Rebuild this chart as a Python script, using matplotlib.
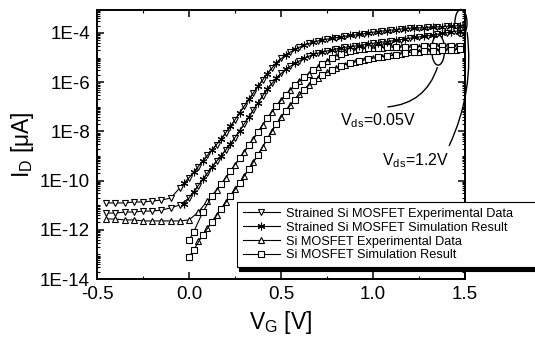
import numpy as np
import matplotlib
matplotlib.use('Agg')
import matplotlib.pyplot as plt
from matplotlib.patches import Ellipse
from matplotlib.ticker import FixedLocator, LogLocator, MultipleLocator, FuncFormatter, NullFormatter

plt.rcParams['font.family'] = ['Liberation Sans', 'DejaVu Sans']
plt.rcParams['mathtext.fontset'] = 'custom'
plt.rcParams['mathtext.rm'] = 'Liberation Sans'
plt.rcParams['mathtext.it'] = 'Liberation Sans:italic'
plt.rcParams['mathtext.bf'] = 'Liberation Sans:bold'
plt.rcParams['axes.unicode_minus'] = False

# gate voltage sample points [V]
vg_exp = np.arange(-0.45, 1.5001, 0.05)
vg_exp_late = np.arange(0.05, 1.5001, 0.05)
vg_sim_strained = np.arange(-0.025, 1.5, 0.05)
vg_sim_si = np.r_[0.0, np.arange(0.025, 1.5, 0.05)]

# log10 of drain current
strained_exp_a = [-10.91, -10.91, -10.91, -10.87, -10.87, -10.83, -10.79, -10.71, -10.30, -9.89,
                  -9.45, -8.96, -8.55, -8.07, -7.54, -6.97, -6.44, -5.91, -5.42, -5.02,
                  -4.77, -4.57, -4.41, -4.33, -4.24, -4.20, -4.12, -4.08, -4.04, -3.96,
                  -3.92, -3.88, -3.84, -3.80, -3.80, -3.76, -3.76, -3.72, -3.72, -3.67]
strained_exp_b = [-11.32, -11.32, -11.28, -11.28, -11.24, -11.24, -11.20, -11.11, -10.99, -10.71,
                  -10.22, -9.69, -9.20, -8.76, -8.27, -7.70, -7.13, -6.56, -6.03, -5.63,
                  -5.34, -5.14, -4.93, -4.81, -4.73, -4.65, -4.57, -4.53, -4.49, -4.41,
                  -4.37, -4.33, -4.28, -4.20, -4.16, -4.12, -4.04, -4.00, -3.92, -3.88]
strained_sim_a = [-10.10, -9.67, -9.20, -8.75, -8.31, -7.80, -7.25, -6.70, -6.17, -5.66,
                  -5.21, -4.89, -4.67, -4.49, -4.37, -4.28, -4.22, -4.16, -4.10, -4.06,
                  -4.00, -3.94, -3.90, -3.86, -3.82, -3.80, -3.78, -3.76, -3.74, -3.72, -3.70]
strained_sim_b = [-10.95, -10.46, -9.95, -9.45, -8.98, -8.52, -7.98, -7.41, -6.84, -6.29,
                  -5.83, -5.48, -5.24, -5.03, -4.87, -4.77, -4.69, -4.61, -4.55, -4.51,
                  -4.45, -4.39, -4.35, -4.30, -4.24, -4.18, -4.14, -4.08, -4.02, -3.96, -3.90]
si_exp_c = [-11.56, -11.56, -11.60, -11.60, -11.64, -11.64, -11.64, -11.64, -11.64, -11.60,
            -11.28, -10.83, -10.38, -9.89, -9.37, -8.84, -8.31, -7.74, -7.21, -6.72,
            -6.32, -5.95, -5.67, -5.38, -5.14, -4.93, -4.77, -4.69, -4.65, -4.61,
            -4.61, -4.57, -4.57, -4.57, -4.57, -4.53, -4.53, -4.53, -4.53, -4.53]
si_exp_d = [-12.46, -11.93, -11.40, -10.87, -10.34, -9.81, -9.24, -8.63, -7.98, -7.41,
            -6.93, -6.48, -6.11, -5.83, -5.59, -5.42, -5.30, -5.18, -5.10, -5.02,
            -4.98, -4.89, -4.85, -4.77, -4.77, -4.73, -4.73, -4.69, -4.69, -4.65]
si_sim_c = [-12.41, -12.09, -11.28, -10.63, -10.14, -9.61, -9.08, -8.55, -8.02, -7.46,
            -6.97, -6.52, -6.11, -5.79, -5.50, -5.26, -5.02, -4.85, -4.73, -4.65,
            -4.61, -4.61, -4.57, -4.57, -4.57, -4.57, -4.53, -4.53, -4.53, -4.53, -4.53]
si_sim_d = [-13.11, -12.82, -12.21, -11.68, -11.15, -10.63, -10.10, -9.53, -8.96, -8.31,
            -7.70, -7.17, -6.72, -6.32, -5.95, -5.71, -5.50, -5.34, -5.22, -5.14,
            -5.06, -4.98, -4.93, -4.89, -4.81, -4.77, -4.73, -4.73, -4.69, -4.69, -4.65]

labels = ['Strained Si MOSFET Experimental Data', 'Strained Si MOSFET Simulation Result',
          'Si MOSFET Experimental Data', 'Si MOSFET Simulation Result']
y_ticks = [1e-14, 1e-12, 1e-10, 1e-8, 1e-6, 1e-4]

fig = plt.figure(figsize=(5.35, 3.39), dpi=100)
ax = fig.add_axes([97 / 535, 60 / 339, 368 / 535, 269 / 339])

common = dict(color='black', lw=0.8, mfc='white', mec='black', mew=0.8)
ax.plot(vg_exp, 10 ** np.array(strained_exp_a), marker='v', ms=5, label=labels[0], **common)
ax.plot(vg_sim_strained, 10 ** np.array(strained_sim_a), marker=(6, 2, 0), ms=5.5, label=labels[1], **common)
ax.plot(vg_exp, 10 ** np.array(si_exp_c), marker='^', ms=5, label=labels[2], **common)
ax.plot(vg_sim_si, 10 ** np.array(si_sim_c), marker='s', ms=4, label=labels[3], **common)
ax.plot(vg_exp, 10 ** np.array(strained_exp_b), marker='v', ms=5, **common)
ax.plot(vg_sim_strained, 10 ** np.array(strained_sim_b), marker=(6, 2, 0), ms=5.5, **common)
ax.plot(vg_exp_late, 10 ** np.array(si_exp_d), marker='^', ms=5, **common)
ax.plot(vg_sim_si, 10 ** np.array(si_sim_d), marker='s', ms=4, **common)

ax.set_yscale('log')
ax.set_xlim(-0.5, 1.5)
ax.set_ylim(1e-14, 8.6e-4)
ax.yaxis.set_major_locator(FixedLocator(y_ticks))
ax.yaxis.set_major_formatter(FuncFormatter(lambda v, p: f'1E{int(round(np.log10(v)))}'))
ax.yaxis.set_minor_locator(LogLocator(base=10, subs=np.arange(1, 10), numticks=100))
ax.yaxis.set_minor_formatter(NullFormatter())
ax.xaxis.set_major_locator(MultipleLocator(0.5))
ax.xaxis.set_minor_locator(MultipleLocator(0.25))
ax.tick_params(which='both', direction='in', top=True, right=True, labelsize=13.5)
ax.tick_params(which='major', length=5, width=1.1, pad=5)
ax.tick_params(which='minor', length=2.5, width=0.8)
for s in ax.spines.values():
    s.set_linewidth(1.4)

ax.set_xlabel(r'V$_\mathregular{G}$ [V]', fontsize=16.5, labelpad=4)
ax.set_ylabel(r'I$_\mathregular{D}$ [$\mathregular{\mu}$A]', fontsize=16.5, labelpad=3)

leg = ax.legend(loc='upper left', bbox_to_anchor=(237 / 535, 69 / 339, 320 / 535, 68 / 339),
                bbox_transform=fig.transFigure, mode='expand', borderaxespad=0, fontsize=9.2,
                numpoints=1, handlelength=2.9, handletextpad=0.45, labelspacing=0.15,
                borderpad=0.45, fancybox=False, framealpha=1, edgecolor='black',
                shadow={'color': 'black', 'alpha': 1, 'ox': 1.5, 'oy': -2.5})
leg.get_frame().set_linewidth(0.8)

# V_ds call-outs
ax.add_patch(Ellipse((0.927, 0.851), 0.035, 0.112, transform=ax.transAxes,
                     fill=False, lw=1.0, color='black', clip_on=False))
ax.add_patch(Ellipse((0.989, 0.952), 0.033, 0.100, transform=ax.transAxes,
                     fill=False, lw=1.0, color='black', clip_on=False))
ax.annotate('', xy=(0.783, 0.639), xytext=(0.927, 0.796), xycoords='axes fraction',
            arrowprops=dict(arrowstyle='-', connectionstyle='arc3,rad=-0.35', lw=1.0, color='black'))
ax.annotate('', xy=(0.954, 0.487), xytext=(1.005, 0.926), xycoords='axes fraction',
            annotation_clip=False,
            arrowprops=dict(arrowstyle='-', connectionstyle='arc3,rad=-0.15', lw=1.0, color='black'))
ax.text(0.660, 0.587, r'V$_\mathregular{ds}$=0.05V', transform=ax.transAxes, fontsize=11.5, va='center')
ax.text(0.774, 0.439, r'V$_\mathregular{ds}$=1.2V', transform=ax.transAxes, fontsize=11.5, va='center')

fig.savefig('out.png', dpi=100)
